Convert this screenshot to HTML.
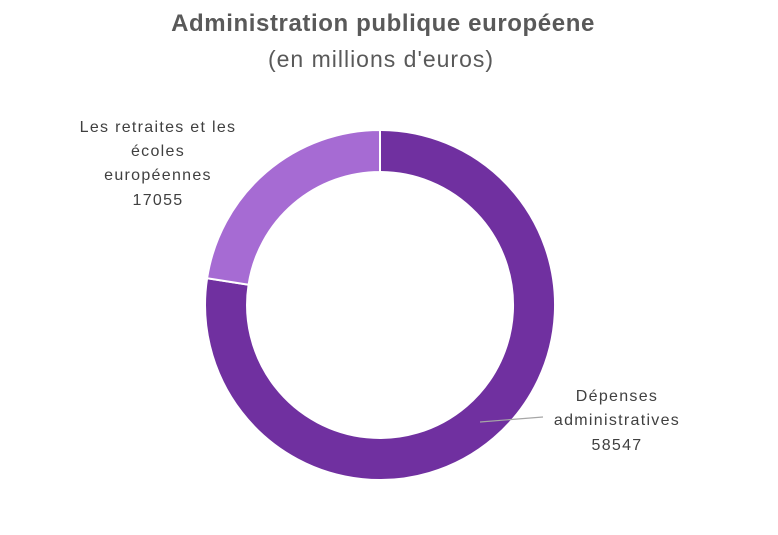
<!DOCTYPE html>
<html><head><meta charset="utf-8"><style>
body{margin:0;background:#fff;width:778px;height:530px;overflow:hidden;font-family:"Liberation Sans",sans-serif;}
</style></head><body>
<svg width="778" height="530" xmlns="http://www.w3.org/2000/svg">
<text x="383" y="31" text-anchor="middle" font-family="Liberation Sans, sans-serif" font-size="24" font-weight="bold" fill="#595959" letter-spacing="0.6">Administration publique européene</text>
<text x="381" y="67" text-anchor="middle" font-family="Liberation Sans, sans-serif" font-size="23" fill="#595959" letter-spacing="1">(en millions d'euros)</text>
<path d="M380,130 A175,175 0 1 1 207.1,278.2 L248.6,284.7 A133,133 0 1 0 380,172 Z" fill="#7030A0" stroke="#fff" stroke-width="2"/>
<path d="M207.1,278.2 A175,175 0 0 1 380,130 L380,172 A133,133 0 0 0 248.6,284.7 Z" fill="#A66BD3" stroke="#fff" stroke-width="2"/>
<line x1="480" y1="422" x2="543" y2="417" stroke="#a6a6a6" stroke-width="1.2"/>
<g font-family="Liberation Sans, sans-serif" font-size="16" fill="#404040" text-anchor="middle" letter-spacing="1.3">
<text x="617" y="401">Dépenses</text>
<text x="617" y="425">administratives</text>
<text x="617" y="450">58547</text>
<text x="158" y="132">Les retraites et les</text>
<text x="158" y="156">écoles</text>
<text x="158" y="180">européennes</text>
<text x="158" y="205">17055</text>
</g>
</svg>
</body></html>
